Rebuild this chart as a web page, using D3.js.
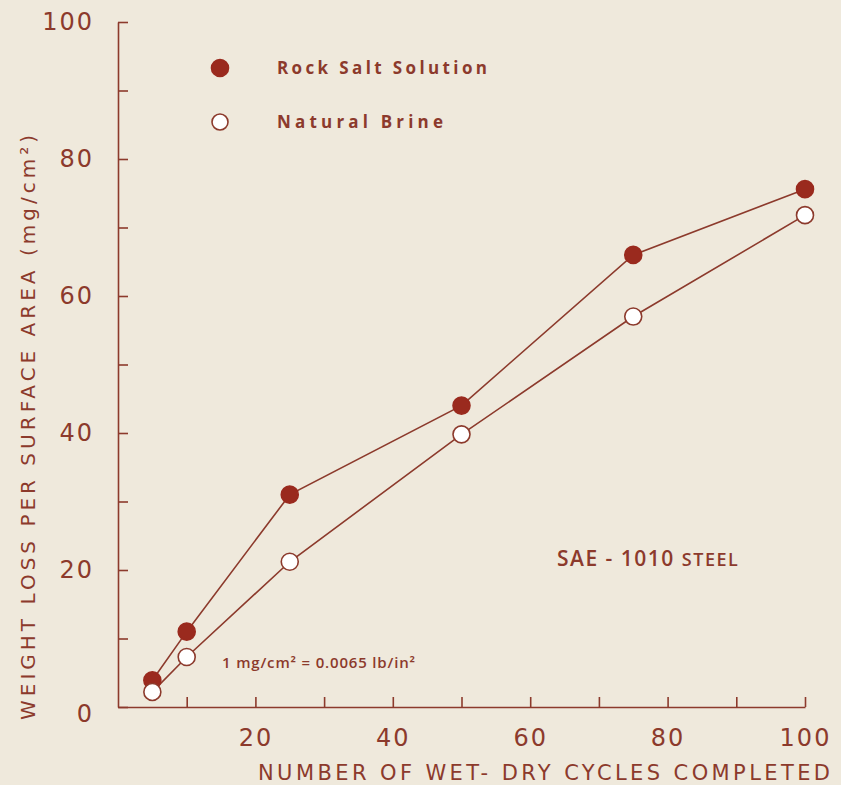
<!DOCTYPE html>
<html>
<head>
<meta charset="utf-8">
<script src="https://d3js.org/d3.v7.min.js"></script>
<style>
  body { margin: 0; background: #efe9dc; }
  svg { display: block; }
</style>
</head>
<body>
<script>
  // values
  var cycles = [5, 10, 25, 50, 75, 100];
  var rockSalt = [3.9, 11.0, 31.0, 44.0, 66.0, 75.6];
  var naturalBrine = [2.2, 7.3, 21.2, 39.8, 57.0, 71.8];
  var xTicks = [10, 20, 30, 40, 50, 60, 70, 80, 90, 100];
  var yTicks = [0, 10, 20, 30, 40, 50, 60, 70, 80, 90, 100];

  var W = 841, H = 785;
  var margin = {top: 22, right: 36, bottom: 78, left: 118},
      width = W - margin.left - margin.right,
      height = H - margin.top - margin.bottom;

  var ink = "#8c3a2c",
      dot = "#9a2a1e",
      font = "'DejaVu Sans', 'Open Sans', sans-serif",
      font2 = "'Open Sans', 'DejaVu Sans', sans-serif";

  var x = d3.scaleLinear().domain([0, 100]).range([0, width]);
  var y = d3.scaleLinear().domain([0, 100]).range([height, 0]);

  var svg = d3.select("body").append("svg")
      .attr("width", W)
      .attr("height", H);

  var g = svg.append("g")
      .attr("transform", "translate(" + margin.left + "," + margin.top + ")");

  // y axis, ticks pointing inward
  var yAxis = g.append("g")
      .call(d3.axisLeft(y)
        .tickValues(yTicks)
        .tickSizeInner(-10)
        .tickSizeOuter(0)
        .tickPadding(24)
        .tickFormat(function(d) { return d % 20 === 0 ? d : ""; }));

  // x axis, ticks pointing up
  var xAxis = g.append("g")
      .attr("transform", "translate(0," + height + ")")
      .call(d3.axisBottom(x)
        .tickValues(xTicks)
        .tickSizeInner(-10)
        .tickSizeOuter(0)
        .tickPadding(22)
        .tickFormat(function(d) { return d % 20 === 0 ? d : ""; }));

  [yAxis, xAxis].forEach(function(a) {
    a.selectAll("path, line").attr("stroke", ink).attr("stroke-width", 1.6);
    a.selectAll("text")
      .attr("fill", ink)
      .style("font-family", font)
      .style("font-size", "24px")
      .style("letter-spacing", "2px");
  });
  yAxis.select(".tick text").attr("dy", "0.62em");

  // axis titles
  svg.append("text")
      .attr("x", 258)
      .attr("y", 780)
      .attr("textLength", 572)
      .attr("lengthAdjust", "spacing")
      .attr("fill", ink)
      .style("font-family", font)
      .style("font-size", "21px")
      .text("NUMBER OF WET- DRY  CYCLES  COMPLETED");

  svg.append("text")
      .attr("transform", "translate(35,720) rotate(-90)")
      .attr("textLength", 585)
      .attr("lengthAdjust", "spacing")
      .attr("fill", ink)
      .style("font-family", font)
      .style("font-size", "20px")
      .text("WEIGHT LOSS PER SURFACE AREA (mg/cm\u00B2)");

  // series
  var series = [
    {name: "Rock Salt Solution", values: rockSalt, filled: true, len: 210},
    {name: "Natural Brine", values: naturalBrine, filled: false, len: 166}
  ];

  var line = d3.line()
      .x(function(d, i) { return x(cycles[i]); })
      .y(function(d) { return y(d); });

  series.forEach(function(s) {
    g.append("path")
        .datum(s.values)
        .attr("d", line)
        .attr("fill", "none")
        .attr("stroke", ink)
        .attr("stroke-width", 1.6);
  });

  series.forEach(function(s) {
    g.selectAll(null)
      .data(s.values)
      .enter().append("circle")
        .attr("cx", function(d, i) { return x(cycles[i]); })
        .attr("cy", function(d) { return y(d); })
        .attr("r", 8.5)
        .attr("fill", s.filled ? dot : "#ffffff")
        .attr("stroke", s.filled ? dot : ink)
        .attr("stroke-width", 1.6);
  });

  // legend
  var legend = svg.append("g");
  series.forEach(function(s, i) {
    var ly = 68 + i * 54;
    legend.append("circle")
        .attr("cx", 220).attr("cy", ly)
        .attr("r", s.filled ? 8.5 : 8)
        .attr("fill", s.filled ? dot : "#ffffff")
        .attr("stroke", s.filled ? dot : ink)
        .attr("stroke-width", 1.6);
    legend.append("text")
        .attr("x", 277).attr("y", ly + 6)
        .attr("textLength", s.len)
        .attr("lengthAdjust", "spacing")
        .attr("fill", ink)
        .style("font-family", font2)
        .style("font-weight", "bold")
        .style("font-size", "17px")
        .text(s.name);
  });

  // annotations
  var sae = svg.append("text")
      .attr("x", 557).attr("y", 566)
      .attr("fill", ink)
      .style("font-family", font2)
      .style("font-weight", "600")
      .style("letter-spacing", "1.5px");
  sae.append("tspan").style("font-size", "21px").text("SAE - 1010 ");
  sae.append("tspan").style("font-size", "18px").text("STEEL");

  svg.append("text")
      .attr("x", 222).attr("y", 668)
      .attr("textLength", 193)
      .attr("lengthAdjust", "spacing")
      .attr("fill", ink)
      .style("font-family", font2)
      .style("font-size", "15px")
      .style("font-weight", "600")
      .text("1 mg/cm\u00B2 = 0.0065 lb/in\u00B2");
</script>
</body>
</html>
